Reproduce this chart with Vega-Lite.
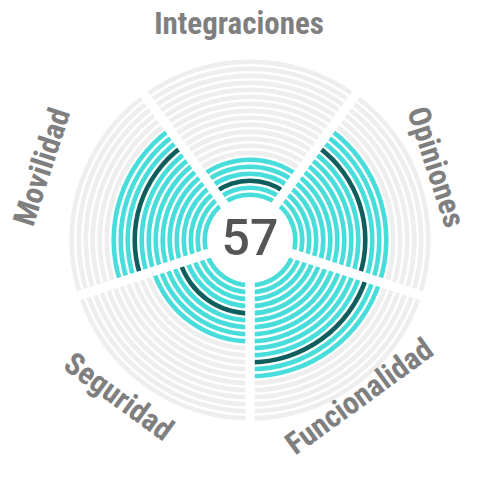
{
  "$schema": "https://vega.github.io/schema/vega-lite/v6.json",
  "width": 500,
  "height": 480,
  "autosize": {"type": "fit", "contains": "padding"},
  "padding": 0,
  "background": "white",
  "config": {"view": {"stroke": null}},
  "data": {
    "values": [
      {"cat": "Integraciones", "seg": 0, "value": 30,
       "ring": [0,1,2,3,4,5,6,7,8,9,10,11,12,13,14,15,16,17,18,19],
       "state": ["on","on","mark","on","on","on","off","off","off","off","off","off","off","off","off","off","off","off","off","off"]},
      {"cat": "Opiniones", "seg": 1, "value": 70,
       "ring": [0,1,2,3,4,5,6,7,8,9,10,11,12,13,14,15,16,17,18,19],
       "state": ["on","on","on","on","on","on","on","on","on","on","mark","on","on","on","off","off","off","off","off","off"]},
      {"cat": "Funcionalidad", "seg": 2, "value": 70,
       "ring": [0,1,2,3,4,5,6,7,8,9,10,11,12,13,14,15,16,17,18,19],
       "state": ["on","on","on","on","on","on","on","on","on","on","on","mark","on","on","off","off","off","off","off","off"]},
      {"cat": "Seguridad", "seg": 3, "value": 45,
       "ring": [0,1,2,3,4,5,6,7,8,9,10,11,12,13,14,15,16,17,18,19],
       "state": ["on","on","on","on","mark","on","on","on","on","off","off","off","off","off","off","off","off","off","off","off"]},
      {"cat": "Movilidad", "seg": 4, "value": 70,
       "ring": [0,1,2,3,4,5,6,7,8,9,10,11,12,13,14,15,16,17,18,19],
       "state": ["on","on","on","on","on","on","on","on","on","on","mark","on","on","on","off","off","off","off","off","off"]}
    ]
  },
  "layer": [
    {
      "transform": [{"flatten": ["ring", "state"]}],
      "mark": {"type": "arc", "radiusOffset": 2.3, "radius2Offset": -2.3},
      "encoding": {
        "theta": {"aggregate": "count", "type": "quantitative", "stack": true,
                  "scale": {"domain": [0, 5], "range": [-0.6283185, 5.6548668]}},
        "radius": {"field": "ring", "type": "quantitative",
                   "scale": {"type": "linear", "domain": [0, 19], "range": [45.3, 178.3], "zero": false, "nice": false}},
        "radius2": {"field": "ring"},
        "color": {"field": "state", "type": "nominal",
                  "scale": {"domain": ["off", "on", "mark"], "range": ["#eeeeee", "#48dcda", "#0d5e5c"]},
                  "legend": null},
        "order": {"field": "seg", "type": "quantitative"}
      }
    },
    {
      "mark": {"type": "arc", "fill": "transparent", "stroke": "white", "strokeWidth": 9, "outerRadius": 195, "innerRadius": 0},
      "encoding": {
        "theta": {"aggregate": "count", "type": "quantitative", "stack": true,
                  "scale": {"domain": [0, 5], "range": [-0.6283185, 5.6548668]}},
        "order": {"field": "seg", "type": "quantitative"}
      }
    },
    {
      "mark": {"type": "text", "radius": 206, "xOffset": -11, "yOffset": -9,
               "font": "Roboto Condensed, DejaVu Sans Condensed, sans-serif", "fontSize": 31, "fontWeight": "bold",
               "fill": "#7f7f7f", "align": "center", "baseline": "middle"},
      "encoding": {
        "theta": {"aggregate": "count", "type": "quantitative", "stack": true,
                  "scale": {"domain": [0, 5], "range": [-0.6283185, 5.6548668]}},
        "order": {"field": "seg", "type": "quantitative"},
        "text": {"field": "cat", "type": "nominal"},
        "angle": {"field": "seg", "type": "quantitative",
                  "scale": {"type": "threshold", "domain": [0.5, 1.5, 2.5, 3.5], "range": [0, 72, -36, 36, -72]}, "legend": null}
      }
    },
    {
      "data": {"values": [{"score": 57}]},
      "mark": {"type": "text", "font": "Roboto", "fontSize": 50, "fontWeight": 500, "fill": "#555555", "align": "center", "baseline": "middle"},
      "encoding": {
        "text": {"field": "score", "type": "quantitative"}
      }
    }
  ]
}
